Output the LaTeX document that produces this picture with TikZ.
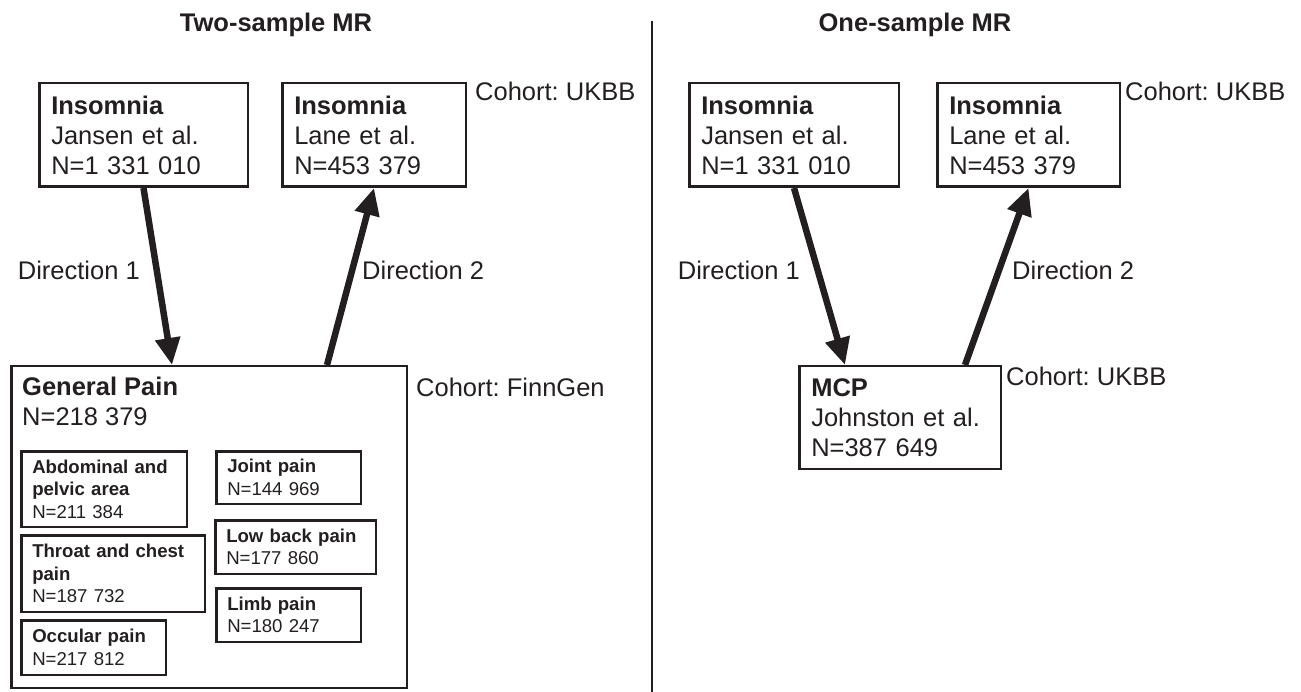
\documentclass[tikz,border=0pt]{standalone}
\usepackage{fontspec}
\setmainfont{Liberation Sans}
\usetikzlibrary{arrows.meta}
\definecolor{ink}{HTML}{231F20}
\frenchspacing

\begin{document}
\begin{tikzpicture}[x=1pt,y=-1pt,
        every node/.style={inner sep=0pt,text=ink},
        bigtxt/.style={font=\fontsize{25.5}{30}\selectfont},
        smalltxt/.style={font=\fontsize{18.6}{22.5}\selectfont},
        heading/.style={font=\fontsize{25.5}{30}\selectfont\bfseries},
        study/.style={bigtxt,draw=ink,line width=2.5pt,anchor=north west,
            align=left,inner xsep=12pt,minimum height=103.5pt},
        painbox/.style={smalltxt,draw=ink,line width=2.5pt,anchor=north west,
            align=left,inner xsep=11pt},
        dirarrow/.style={draw=ink,line width=6.5pt,
            -{Triangle[length=27pt,width=24pt]}}]
    \useasboundingbox (0,0) rectangle (1301,692);

    \node[heading,anchor=base] (ttwo) at (276,32) {Two-sample MR};
    \node[heading,anchor=base] (tone) at (915,32) {One-sample MR};
    \draw[ink,line width=2pt] (652,21) -- (652,692);

    \node[study,text width=184.5pt] (jan1) at (38,82)
        {\textbf{Insomnia}\\Jansen et al.\\N=1 331 010};
    \node[study,text width=159.5pt] (lane1) at (281,82)
        {\textbf{Insomnia}\\Lane et al.\\N=453 379};
    \node[bigtxt,anchor=west] (ukbb1) at (475,91) {Cohort: UKBB};

    \node[draw=ink,line width=2.5pt,anchor=north west,minimum width=395.5pt,
        minimum height=321.5pt] (gp) at (10,365) {};
    \node[bigtxt,anchor=north west,align=left] (gptxt) at (22,377)
        {\textbf{General Pain}\\N=218 379};
    \node[bigtxt,anchor=west] (finn) at (416,387) {Cohort: FinnGen};

    \node[painbox,text width=143.5pt,minimum height=75.5pt] (abd) at (20,450)
        {\textbf{Abdominal and}\\\textbf{pelvic area}\\N=211 384};
    \node[painbox,text width=161.5pt,minimum height=76.5pt] (throat) at (20,534)
        {\textbf{Throat and chest}\\\textbf{pain}\\N=187 732};
    \node[painbox,text width=122.5pt,minimum height=54.5pt] (occ) at (20,619)
        {\textbf{Occular pain}\\N=217 812};
    \node[painbox,text width=122.5pt,minimum height=52.5pt] (joint) at (215,450)
        {\textbf{Joint pain}\\N=144 969};
    \node[painbox,text width=138.5pt,minimum height=53.5pt] (lowback) at (214,519)
        {\textbf{Low back pain}\\N=177 860};
    \node[painbox,text width=122.5pt,minimum height=53.5pt] (limb) at (215,587)
        {\textbf{Limb pain}\\N=180 247};

    \draw[dirarrow] (jan1.south) -- ([xshift=162pt]gp.north west);
    \draw[dirarrow] ([xshift=317pt]gp.north west) -- (lane1.south);
    \node[bigtxt,anchor=east] (dir1a) at (140,270) {Direction 1};
    \node[bigtxt,anchor=west] (dir2a) at (362,270) {Direction 2};

    \node[study,text width=185.5pt] (jan2) at (688,82)
        {\textbf{Insomnia}\\Jansen et al.\\N=1 331 010};
    \node[study,text width=158.5pt] (lane2) at (936,82)
        {\textbf{Insomnia}\\Lane et al.\\N=453 379};
    \node[bigtxt,anchor=west] (ukbb2) at (1125,91) {Cohort: UKBB};

    \node[study,text width=177.5pt,minimum height=102.5pt] (mcp) at (798,365)
        {\textbf{MCP}\\Johnston et al.\\N=387 649};
    \node[bigtxt,anchor=west] (ukbb3) at (1006,376) {Cohort: UKBB};

    \draw[dirarrow] (jan2.south) -- ([xshift=47pt]mcp.north west);
    \draw[dirarrow] ([xshift=167pt]mcp.north west) -- (lane2.south);
    \node[bigtxt,anchor=east] (dir1b) at (800,270) {Direction 1};
    \node[bigtxt,anchor=west] (dir2b) at (1012,270) {Direction 2};
\end{tikzpicture}
\end{document}
